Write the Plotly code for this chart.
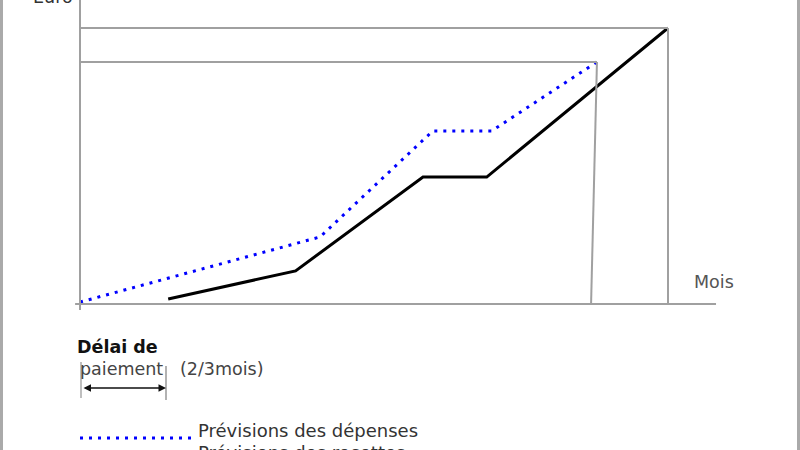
import plotly.graph_objects as go

# ---- data (months, euros in arbitrary units) ----
mois_recettes = [1.8, 4.4, 7.0, 8.3, 12.0]
prevision_recettes = [1.8, 12.0, 46.0, 46.0, 100.0]
mois_depenses = [0.0, 4.9, 7.2, 8.4, 10.55]
prevision_depenses = [0.7, 24.3, 62.7, 62.7, 87.7]
fin_depenses_bas = 10.43  # foot of the (slightly slanted) end-of-expenses line
legend_labels = ["Prévisions des dépenses", "Prévisions des recettes"]

W, H = 800, 450
def px(x):
    return x / W
def py(y):
    return 1 - y / H

# pixel mapping: month m -> 80 + 49*m ; euro e -> 304 - 2.76*e
x_range = [-80 / 49, (W - 80) / 49]
y_range = [(304 - H) / 2.76, 304 / 2.76]

fig = go.Figure()

grey = "#a0a0a0"
shapes = []
# reference grey lines built from the series end points
shapes.append(dict(type="line", xref="x", yref="y", x0=0, x1=mois_recettes[-1],
                   y0=prevision_recettes[-1], y1=prevision_recettes[-1], line=dict(color=grey, width=2)))
shapes.append(dict(type="line", xref="x", yref="y", x0=mois_recettes[-1], x1=mois_recettes[-1],
                   y0=prevision_recettes[-1], y1=0, line=dict(color=grey, width=2)))
shapes.append(dict(type="line", xref="x", yref="y", x0=0, x1=mois_depenses[-1],
                   y0=prevision_depenses[-1], y1=prevision_depenses[-1], line=dict(color=grey, width=2)))
shapes.append(dict(type="line", xref="x", yref="y", x0=mois_depenses[-1], x1=fin_depenses_bas,
                   y0=prevision_depenses[-1], y1=0, line=dict(color=grey, width=2)))
# axes
shapes.append(dict(type="line", xref="x", yref="y", x0=-0.1, x1=12.98, y0=0, y1=0,
                   line=dict(color=grey, width=2)))
shapes.append(dict(type="line", xref="x", yref="y", x0=0, x1=0, y0=-2.2, y1=y_range[1],
                   line=dict(color=grey, width=2)))
# page borders
shapes.append(dict(type="line", xref="paper", yref="paper", x0=px(1.5), x1=px(1.5), y0=0, y1=1,
                   line=dict(color="#aaaaaa", width=3)))
shapes.append(dict(type="line", xref="paper", yref="paper", x0=px(798.5), x1=px(798.5), y0=0, y1=1,
                   line=dict(color="#aaaaaa", width=3)))
# délai de paiement bracket
shapes.append(dict(type="line", xref="paper", yref="paper", x0=px(81), x1=px(81), y0=py(362), y1=py(398),
                   line=dict(color="#aaaaaa", width=1.5)))
shapes.append(dict(type="line", xref="paper", yref="paper", x0=px(166), x1=px(166), y0=py(366), y1=py(400),
                   line=dict(color="#999999", width=1.5)))
# legend samples
shapes.append(dict(type="line", xref="paper", yref="paper", x0=px(80), x1=px(196), y0=py(438), y1=py(438),
                   line=dict(color="#0000ff", width=3, dash="3px,6px")))
shapes.append(dict(type="line", xref="paper", yref="paper", x0=px(80), x1=px(196), y0=py(460), y1=py(460),
                   line=dict(color="#000000", width=3)))

fig.add_trace(go.Scatter(x=mois_depenses, y=prevision_depenses, mode="lines", name=legend_labels[0],
                         line=dict(color="#0000ff", width=3, dash="3px,6px")))
fig.add_trace(go.Scatter(x=mois_recettes, y=prevision_recettes, mode="lines", name=legend_labels[1],
                         line=dict(color="#000000", width=3)))

font = "DejaVu Sans"
ann = []
def text(t, x, y, size, color, xanchor="left", yanchor="middle"):
    ann.append(dict(text=t, x=px(x), y=py(y), xref="paper", yref="paper", showarrow=False,
                    xanchor=xanchor, yanchor=yanchor, font=dict(family=font, size=size, color=color)))

text("Euro", 31, 9, 17.5, "#333333", yanchor="bottom")
text("Mois", 692, 282, 17.5, "#555555")
text("<b>Délai de</b>", 75, 347, 17.5, "#111111")
text("paiement", 78, 369, 17.5, "#444444")
text("(2/3mois)", 178, 369, 17.5, "#444444")
text(legend_labels[0], 196, 430, 18, "#333333")
text(legend_labels[1], 196, 452, 18, "#333333")

# double-headed arrow
ann.append(dict(x=px(166), y=py(388), ax=-84, ay=0, xref="paper", yref="paper",
                axref="pixel", ayref="pixel", showarrow=True, arrowhead=2, arrowside="end+start",
                arrowsize=1, arrowwidth=1.5, arrowcolor="#111111", text=""))

fig.update_layout(
    width=W, height=H, autosize=False,
    margin=dict(l=0, r=0, t=0, b=0),
    paper_bgcolor="white", plot_bgcolor="white",
    showlegend=False,
    xaxis=dict(range=x_range, visible=False, fixedrange=True),
    yaxis=dict(range=y_range, visible=False, fixedrange=True),
    shapes=shapes, annotations=ann,
)

fig.write_html("out.html")
